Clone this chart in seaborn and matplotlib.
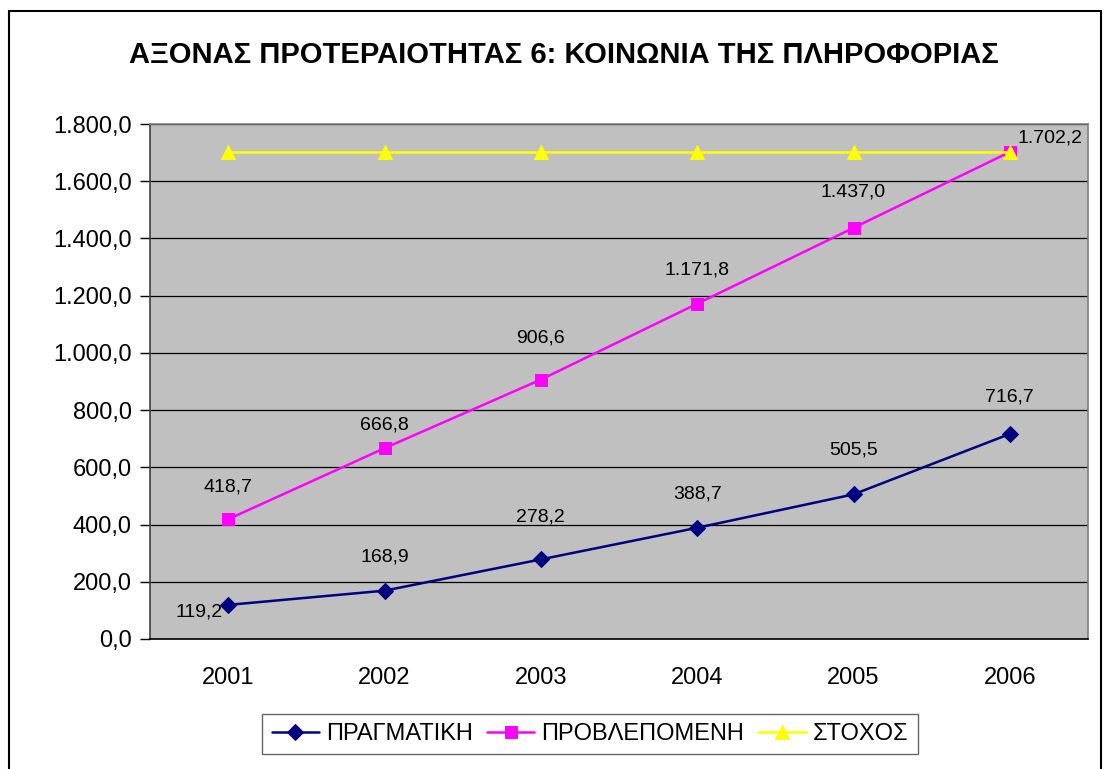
import matplotlib
matplotlib.use("Agg")
import matplotlib.pyplot as plt
import seaborn as sns
import pandas as pd
from matplotlib.patches import Rectangle
from matplotlib.ticker import FixedLocator, FuncFormatter

# Data
years = [2001, 2002, 2003, 2004, 2005, 2006]
actual = [119.2, 168.9, 278.2, 388.7, 505.5, 716.7]
forecast = [418.7, 666.8, 906.6, 1171.8, 1437.0, 1702.2]
target = [1702.2, 1702.2, 1702.2, 1702.2, 1702.2, 1702.2]
names = ["ΠΡΑΓΜΑΤΙΚΗ", "ΠΡΟΒΛΕΠΟΜΕΝΗ", "ΣΤΟΧΟΣ"]
title = "ΑΞΟΝΑΣ ΠΡΟΤΕΡΑΙΟΤΗΤΑΣ 6: ΚΟΙΝΩΝΙΑ ΤΗΣ ΠΛΗΡΟΦΟΡΙΑΣ"

# label offsets (x, y in px) as placed in the original
actual_off = [(-6, -7), (0, 34), (0, 42), (0, 34), (0, 44), (0, 37)]
forecast_off = [(0, 32), (0, 23), (0, 42), (0, 34), (0, 36), (40, 14)]

sns.set_style("white")
plt.rcParams["font.family"] = ["Liberation Sans", "DejaVu Sans"]
plt.rcParams["text.color"] = "black"
plt.rcParams["xtick.color"] = "black"
plt.rcParams["ytick.color"] = "black"

FS = 17
LFS = 14


def gr(v):
    # greek number format 1.702,2
    return f"{v:,.1f}".replace(",", "X").replace(".", ",").replace("X", ".")


df = pd.DataFrame({"year": years, names[0]: actual, names[1]: forecast, names[2]: target})

fig = plt.figure(figsize=(11.04, 7.69), dpi=100)
fig.patches.append(Rectangle((9 / 1104, -0.01), 1092 / 1104, 1 - 11 / 769 + 0.01,
                             transform=fig.transFigure, fill=False,
                             edgecolor="black", linewidth=1.5))
ax = fig.add_axes([150 / 1104, 130 / 769, 938 / 1104, 515 / 769])
ax.set_facecolor("#C0C0C0")

styles = [("#000080", "D", 8), ("#FF00FF", "s", 8.5), ("#FFFF00", "^", 10)]
for name, (col, mk, ms) in zip(names, styles):
    sns.lineplot(data=df, x="year", y=name, ax=ax, color=col, marker=mk,
                 markersize=ms, markeredgecolor=col, linewidth=1.8, label=name)

ax.set_xlim(2000.5, 2006.5)
ax.set_ylim(0, 1800)
ax.yaxis.set_major_locator(FixedLocator(range(0, 1801, 200)))
ax.yaxis.set_major_formatter(FuncFormatter(lambda v, p: gr(v)))
ax.grid(axis="y", color="black", linewidth=0.9)
ax.set_axisbelow(True)
ax.set_xticks(years)
ax.set_xticklabels([str(y) for y in years])
ax.xaxis.set_minor_locator(FixedLocator([y + 0.5 for y in [2000] + years]))
ax.tick_params(axis="x", which="major", length=0, pad=20, labelsize=FS)
ax.tick_params(axis="x", which="minor", length=7, width=1, color="black", direction="out")
ax.tick_params(axis="y", length=7, width=1, color="black", direction="out", left=True,
               labelsize=FS, pad=6)
ax.set_xlabel("")
ax.set_ylabel("")
for s in ax.spines.values():
    s.set_color("#808080")
    s.set_linewidth(1.2)
ax.spines["bottom"].set_color("black")
ax.spines["left"].set_color("#404040")

# data labels
for series, offs in [(actual, actual_off), (forecast, forecast_off)]:
    for x, v, (dx, dy) in zip(years, series, offs):
        ha = "right" if dx < 0 else "center"
        ax.annotate(gr(v), (x, v), xytext=(dx * 0.72, dy * 0.72),
                    textcoords="offset points", ha=ha, va="center", fontsize=LFS)

fig.text(564 / 1104, 1 - 55 / 769, title, ha="center", va="center",
         fontsize=21, fontweight="bold")

if ax.legend_:
    ax.legend_.remove()
h, l = ax.get_legend_handles_labels()
leg = fig.legend(h, l, loc="center", bbox_to_anchor=(590 / 1104, 1 - 734 / 769),
                 ncol=3, fontsize=17, frameon=True, fancybox=False,
                 edgecolor="#404040", handlelength=2.0, handletextpad=0.3,
                 columnspacing=0.6, borderpad=0.4)
leg.get_frame().set_linewidth(1.0)

fig.savefig("out.png", dpi=100)
